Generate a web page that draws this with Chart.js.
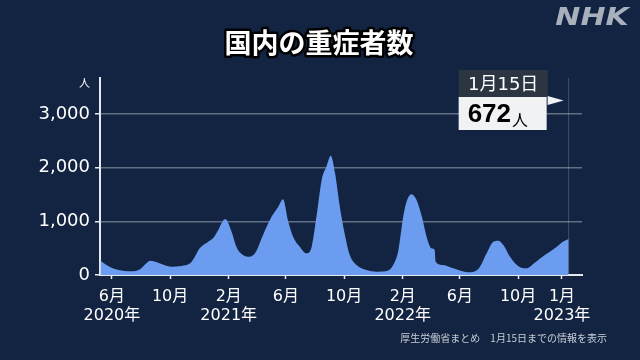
<!DOCTYPE html>
<html>
<head>
<meta charset="utf-8">
<script src="https://cdn.jsdelivr.net/npm/chart.js@4"></script>
<style>
  html, body { margin: 0; padding: 0; background: #122441; }
  #wrap { width: 640px; height: 360px; }
</style>
</head>
<body>
<div id="wrap"><canvas id="chart" width="640" height="360"></canvas></div>
<script>
// 重症者数（読み取り値）
const dates = [
  '2020-05-08','2020-05-24','2020-06-07','2020-06-28','2020-07-12','2020-07-30','2020-08-10','2020-08-20',
  '2020-09-06','2020-10-04','2020-10-25','2020-11-12','2020-11-22','2020-12-02','2020-12-20','2020-12-30',
  '2021-01-10','2021-01-20','2021-01-25','2021-02-07','2021-02-17','2021-03-03','2021-03-17','2021-03-28',
  '2021-04-14','2021-05-02','2021-05-16','2021-05-26','2021-06-05','2021-06-16','2021-06-30','2021-07-14',
  '2021-07-25','2021-08-04','2021-08-15','2021-08-25','2021-09-03','2021-09-12','2021-09-22','2021-10-02',
  '2021-10-13','2021-10-27','2021-11-17','2021-12-08','2021-12-29','2022-01-12','2022-01-23','2022-02-02',
  '2022-02-09','2022-02-19','2022-03-02','2022-03-13','2022-03-23','2022-04-02','2022-04-09','2022-04-11',
  '2022-04-27','2022-05-18','2022-06-18','2022-07-09','2022-07-27','2022-08-10','2022-08-20','2022-08-31',
  '2022-09-14','2022-10-01','2022-10-18','2022-11-05','2022-11-26','2022-12-17','2023-01-03','2023-01-15'
];
const values = [
  267, 168, 112, 75, 68, 106, 199, 267,
  230, 155, 168, 218, 342, 498, 622, 684,
  840, 1014, 1039, 809, 529, 373, 342, 404,
  746, 1089, 1275, 1412, 1026, 715, 529, 404,
  529, 1089, 1773, 2022, 2223, 1897, 1275, 780,
  373, 187, 93, 62, 75, 187, 467, 1089,
  1368, 1507, 1400, 1089, 715, 498, 467, 249,
  187, 124, 50, 106, 404, 622, 641, 560,
  342, 168, 124, 230, 373, 498, 622, 672
];

// 軸の目盛り
const tickDates = ['2020-06-01','2020-10-01','2021-02-01','2021-06-01','2021-10-01','2022-02-01','2022-06-01','2022-10-01','2023-01-01'];
const tickMonths = ['6月','10月','2月','6月','10月','2月','6月','10月','1月'];
const tickYears = ['2020年','','2021年','','','2022年','','','2023年'];
const yTicks = [0, 1000, 2000, 3000];

const lastLabel = '1月15日';
const lastUnit = '人';

const FONT = "'DejaVu Sans', 'Noto Sans CJK JP', sans-serif";
const CJK = "'Noto Sans CJK JP', sans-serif";

function toDay(s) {
  const [y, m, d] = s.split('-').map(Number);
  return Date.UTC(y, m - 1, d) / 86400000;
}

const points = dates.map((d, i) => ({ x: toDay(d), y: values[i] }));

// 背景・タイトル・注記など
const deco = {
  id: 'deco',
  beforeDraw(chart) {
    const c = chart.ctx;
    c.save();
    c.fillStyle = '#122441';
    c.fillRect(0, 0, chart.width, chart.height);
    c.restore();
  },
  beforeDatasetsDraw(chart) {
    const c = chart.ctx;
    const area = chart.chartArea;
    const lx = chart.scales.x.getPixelForValue(points[points.length - 1].x);
    c.save();
    c.strokeStyle = 'rgba(200,210,225,0.25)';
    c.lineWidth = 1;
    c.beginPath();
    c.moveTo(lx, area.top);
    c.lineTo(lx, area.bottom);
    c.stroke();
    c.restore();
  },
  afterDraw(chart) {
    const c = chart.ctx;
    const area = chart.chartArea;
    const last = points[points.length - 1];
    const lx = chart.scales.x.getPixelForValue(last.x);
    c.save();

    // タイトル
    c.font = "bold 27px " + CJK;
    c.textAlign = 'center';
    c.textBaseline = 'middle';
    c.lineJoin = 'round';
    c.strokeStyle = '#000';
    c.lineWidth = 5;
    c.strokeText('国内の重症者数', 319, 43);
    c.fillStyle = '#fff';
    c.fillText('国内の重症者数', 319, 43);

    // NHK
    c.save();
    c.translate(592, 18);
    c.scale(1.2, 1);
    c.font = "italic bold 25px 'DejaVu Sans', sans-serif";
    c.fillStyle = '#a8b0bc';
    c.fillText('NHK', 0, 0);
    c.restore();

    // 単位
    c.font = "11px " + CJK;
    c.fillStyle = '#fff';
    c.textAlign = 'right';
    c.fillText('人', 90, area.top + 5);

    // 最新値のラベル
    const bx = lx - 110, bw = 89;
    c.fillStyle = '#2c3643';
    c.fillRect(bx, 70, bw, 27);
    c.fillStyle = '#f1f2f4';
    c.fillRect(bx, 97, bw - 1, 33);
    c.beginPath();
    c.moveTo(lx - 21, 96);
    c.lineTo(lx - 5, 100.5);
    c.lineTo(lx - 21, 105);
    c.closePath();
    c.fill();

    c.textAlign = 'center';
    c.fillStyle = '#fff';
    c.font = "18px " + FONT;
    c.fillText(lastLabel, bx + bw / 2, 85);

    c.textAlign = 'left';
    c.fillStyle = '#000';
    c.font = "bold 26px 'Liberation Sans', sans-serif";
    c.fillText(String(last.y), bx + 9, 115);
    const w = c.measureText(String(last.y)).width;
    c.font = "16px " + CJK;
    c.fillText(lastUnit, bx + 10 + w, 120);

    // 出典
    c.textAlign = 'right';
    c.fillStyle = '#c9ced6';
    c.font = "10px " + CJK;
    c.fillText('厚生労働省まとめ　1月15日までの情報を表示', 607, 338);

    c.restore();
  }
};

new Chart(document.getElementById('chart'), {
  type: 'line',
  data: {
    datasets: [{
      data: points,
      fill: 'origin',
      backgroundColor: '#6c9cf0',
      borderWidth: 0,
      pointRadius: 0,
      tension: 0.25,
      cubicInterpolationMode: 'monotone'
    }]
  },
  options: {
    responsive: false,
    animation: false,
    layout: { padding: { left: 0, right: 58, top: 78, bottom: 0 } },
    plugins: { legend: { display: false }, tooltip: { enabled: false } },
    scales: {
      x: {
        type: 'linear',
        min: toDay('2020-05-07'),
        max: toDay('2023-02-12'),
        afterBuildTicks: ax => { ax.ticks = tickDates.map(d => ({ value: toDay(d) })); },
        afterFit: ax => { ax.height = 85; },
        grid: { drawOnChartArea: false, drawTicks: true, tickLength: 4, tickColor: '#e6eaef', tickWidth: 1.5 },
        border: { color: '#e6eaef', width: 2 },
        ticks: {
          color: '#fff',
          font: { size: 16, family: FONT },
          padding: 8,
          maxRotation: 0,
          autoSkip: false,
          callback: (v, i) => tickYears[i] ? [tickMonths[i], tickYears[i]] : tickMonths[i]
        }
      },
      y: {
        min: 0,
        max: 3675,
        afterBuildTicks: ax => { ax.ticks = yTicks.map(v => ({ value: v })); },
        afterFit: ax => { ax.width = 100; },
        grid: {
          color: ctx => ctx.tick && ctx.tick.value === 0 ? 'rgba(0,0,0,0)' : 'rgba(150,160,175,0.6)',
          lineWidth: 1.5,
          tickLength: 5,
          tickColor: '#e6eaef'
        },
        border: { color: '#e6eaef', width: 2 },
        ticks: {
          color: '#fff',
          font: { size: 18, family: FONT },
          padding: 5,
          callback: v => v.toLocaleString('en-US')
        }
      }
    }
  },
  plugins: [deco]
});
</script>
</body>
</html>
